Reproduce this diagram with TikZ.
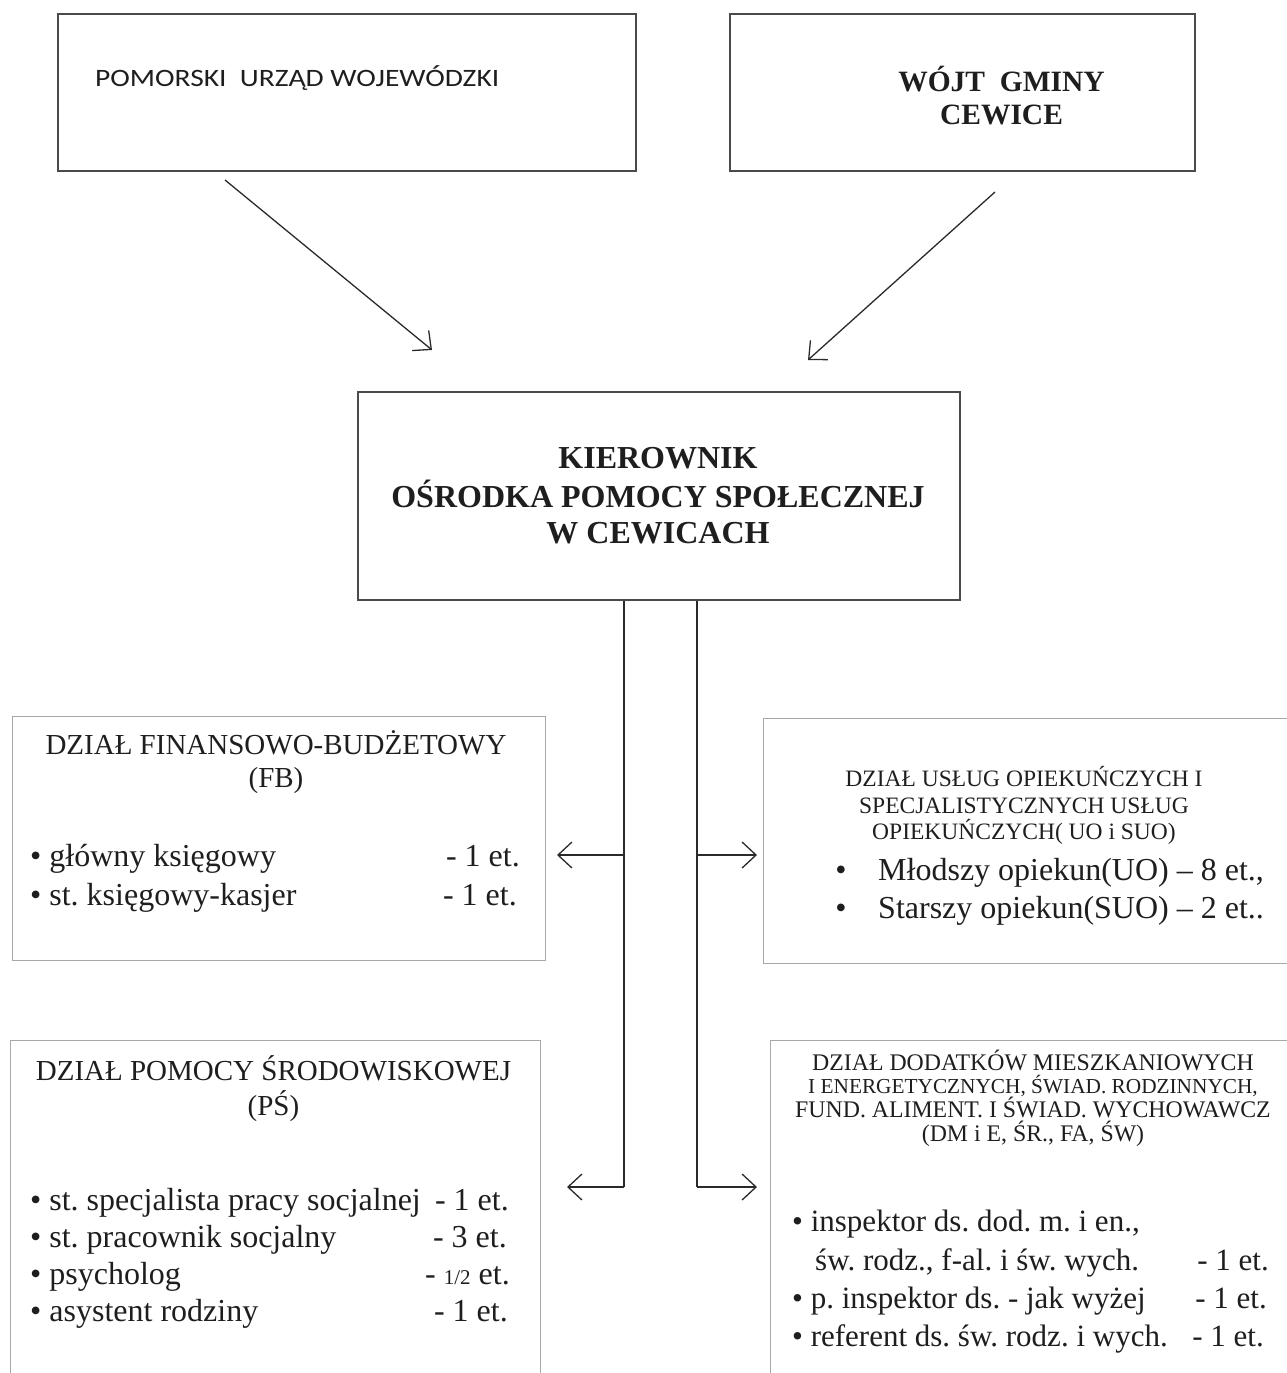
\documentclass[tikz,border=0pt]{standalone}
\usepackage{fontspec}
\setmainfont{Liberation Serif}
\newfontfamily\calib[FakeStretch=1.18]{Carlito}
\usetikzlibrary{arrows.meta}
\definecolor{ink}{HTML}{1E1E1E}
\definecolor{edgeD}{HTML}{4A4A4A}
\definecolor{edgeL}{HTML}{A8A8A8}
\definecolor{wire}{HTML}{2A2A2A}
\frenchspacing
\begin{document}
\begin{tikzpicture}[x=1pt,y=-1pt,
  topbox/.style={draw=edgeD,line width=1.4pt,inner sep=0pt,minimum width=#1},
  lowbox/.style={draw=edgeL,line width=1.0pt,inner sep=0pt,minimum width=#1},
  wirestyle/.style={draw=wire,line width=1.3pt},
  arr/.style={wirestyle,-{Straight Barb[length=14pt,width=26pt,line width=1.3pt]}},
  lbl/.style={inner sep=0pt,anchor=base,text=ink},
  lblw/.style={inner sep=0pt,anchor=base west,text=ink},
  lble/.style={inner sep=0pt,anchor=base east,text=ink},
  fhead/.style={font=\fontsize{29}{34}\selectfont},
  fitem/.style={font=\fontsize{32}{38}\selectfont},
  uhead/.style={font=\fontsize{23.5}{27}\selectfont},
  uitem/.style={font=\fontsize{32}{38}\selectfont},
  dheadA/.style={font=\fontsize{23.8}{27}\selectfont},
  dheadB/.style={font=\fontsize{21.3}{25}\selectfont},
  ditem/.style={font=\fontsize{31}{37}\selectfont},
]
\useasboundingbox (0,0) rectangle (1287,1373);

% ---------- boxes ----------
\node[topbox=578pt,minimum height=157pt] (pom) at (347,92.5) {};
\node[topbox=465pt,minimum height=157pt] (wojt) at (962.5,92.5) {};
\node[topbox=602pt,minimum height=208pt] (kier) at (659,496) {};
\node[lowbox=533pt,minimum height=244pt] (fb) at (278.5,838) {};
\node[lowbox=537pt,minimum height=245pt] (uo) at (1031.5,840.5) {};
\node[lowbox=530pt,minimum height=360pt] (ps) at (275,1220) {};
\node[lowbox=530pt,minimum height=360pt] (dm) at (1035,1220) {};

% ---------- top texts ----------
\node[lblw,font=\calib\fontsize{25}{30}\selectfont] (pomt) at (95,86) {POMORSKI\ \ URZĄD WOJEWÓDZKI};
\node[lbl,font=\bfseries\fontsize{29.5}{34}\selectfont] (wojt1) at (1001.5,91) {WÓJT\ \ GMINY};
\node[lbl,font=\bfseries\fontsize{29.5}{34}\selectfont] (wojt2) at (1001.5,124) {CEWICE};

\node[lbl,font=\bfseries\fontsize{32}{38}\selectfont] (kier1) at (658,468) {KIEROWNIK};
\node[lbl,font=\bfseries\fontsize{32}{38}\selectfont] (kier2) at (658,507) {OŚRODKA POMOCY SPOŁECZNEJ};
\node[lbl,font=\bfseries\fontsize{32}{38}\selectfont] (kier3) at (658,543) {W CEWICACH};

% ---------- FB ----------
\node[lbl,fhead] (fbh1) at (276,754) {DZIAŁ FINANSOWO-BUDŻETOWY};
\node[lbl,fhead] (fbh2) at (276,787) {(FB)};
\node[lblw,fitem] (fbi1) at (30,866) {• główny księgowy};
\node[lble,fitem] (fbe1) at (520,866) {- 1 et.};
\node[lblw,fitem] (fbi2) at (30,905) {• st. księgowy-kasjer};
\node[lble,fitem] (fbe2) at (517,905) {- 1 et.};

% ---------- PS ----------
\node[lbl,fhead] (psh1) at (273.5,1080) {DZIAŁ POMOCY ŚRODOWISKOWEJ};
\node[lbl,fhead] (psh2) at (273.5,1115) {(PŚ)};
\node[lblw,fitem] (psi1) at (30,1210) {• st. specjalista pracy socjalnej};
\node[lble,fitem] (pse1) at (509,1210) {- 1 et.};
\node[lblw,fitem] (psi2) at (30,1247) {• st. pracownik socjalny};
\node[lble,fitem] (pse2) at (507,1247) {- 3 et.};
\node[lblw,fitem] (psi3) at (30,1284) {• psycholog};
\node[lble,fitem] (pse3) at (510,1284) {- {\fontsize{21}{24}\selectfont 1/2} et.};
\node[lblw,fitem] (psi4) at (30,1321) {• asystent rodziny};
\node[lble,fitem] (pse4) at (508,1321) {- 1 et.};

% ---------- UO ----------
\node[lbl,uhead] (uoh1) at (1024,786) {DZIAŁ USŁUG OPIEKUŃCZYCH I};
\node[lbl,uhead] (uoh2) at (1024,813) {SPECJALISTYCZNYCH USŁUG};
\node[lbl,uhead] (uoh3) at (1024,839) {OPIEKUŃCZYCH( UO i SUO)};
\node[lbl,uitem] (uob1) at (841,880) {•};
\node[lblw,uitem] (uoi1) at (878,880) {Młodszy opiekun(UO) – 8 et.,};
\node[lbl,uitem] (uob2) at (841,918) {•};
\node[lblw,uitem] (uoi2) at (878,918) {Starszy opiekun(SUO) – 2 et..};

% ---------- DM ----------
\node[lbl,dheadA] (dmh1) at (1033,1070) {DZIAŁ DODATKÓW MIESZKANIOWYCH};
\node[lbl,dheadB] (dmh2) at (1033,1093) {I ENERGETYCZNYCH, ŚWIAD. RODZINNYCH,};
\node[lbl,dheadA] (dmh3) at (1033,1117) {FUND. ALIMENT. I ŚWIAD. WYCHOWAWCZ};
\node[lbl,dheadA] (dmh4) at (1033,1141) {(DM i E, ŚR., FA, ŚW)};
\node[lblw,ditem] (dmi1) at (792,1231) {• inspektor ds. dod. m. i en.,};
\node[lblw,ditem] (dmi2) at (815,1270) {św. rodz., f-al. i św. wych.};
\node[lble,ditem] (dme2) at (1269,1270) {- 1 et.};
\node[lblw,ditem] (dmi3) at (792,1308) {• p. inspektor ds. - jak wyżej};
\node[lble,ditem] (dme3) at (1267,1308) {- 1 et.};
\node[lblw,ditem] (dmi4) at (792,1346) {• referent ds. św. rodz. i wych.};
\node[lble,ditem] (dme4) at (1264,1346) {- 1 et.};

% ---------- connectors ----------
\coordinate (a1s) at (225,180);
\coordinate (a1e) at (432,350);
\coordinate (a2s) at (995,192);
\coordinate (a2e) at (808,360);
\draw[arr] (a1s) -- (a1e);
\draw[arr] (a2s) -- (a2e);

\coordinate (tl) at ([xshift=-35pt]kier.south);
\coordinate (tr) at ([xshift=38pt]kier.south);
\coordinate (jl1) at (624,855);
\coordinate (jr1) at (697,855);
\coordinate (fbtip) at (557,855);
\coordinate (uotip) at (757,855);
\coordinate (jl2) at (624,1187);
\coordinate (jr2) at (697,1187);
\coordinate (pstip) at (567,1187);
\coordinate (dmtip) at (757,1187);

\draw[wirestyle] (tl) -- (jl2);
\draw[wirestyle] (tr) -- (jr2);
\draw[arr] (jl1) -- (fbtip);
\draw[arr] (jr1) -- (uotip);
\draw[arr] (jl2) -- (pstip);
\draw[arr] (jr2) -- (dmtip);
\end{tikzpicture}
\end{document}
